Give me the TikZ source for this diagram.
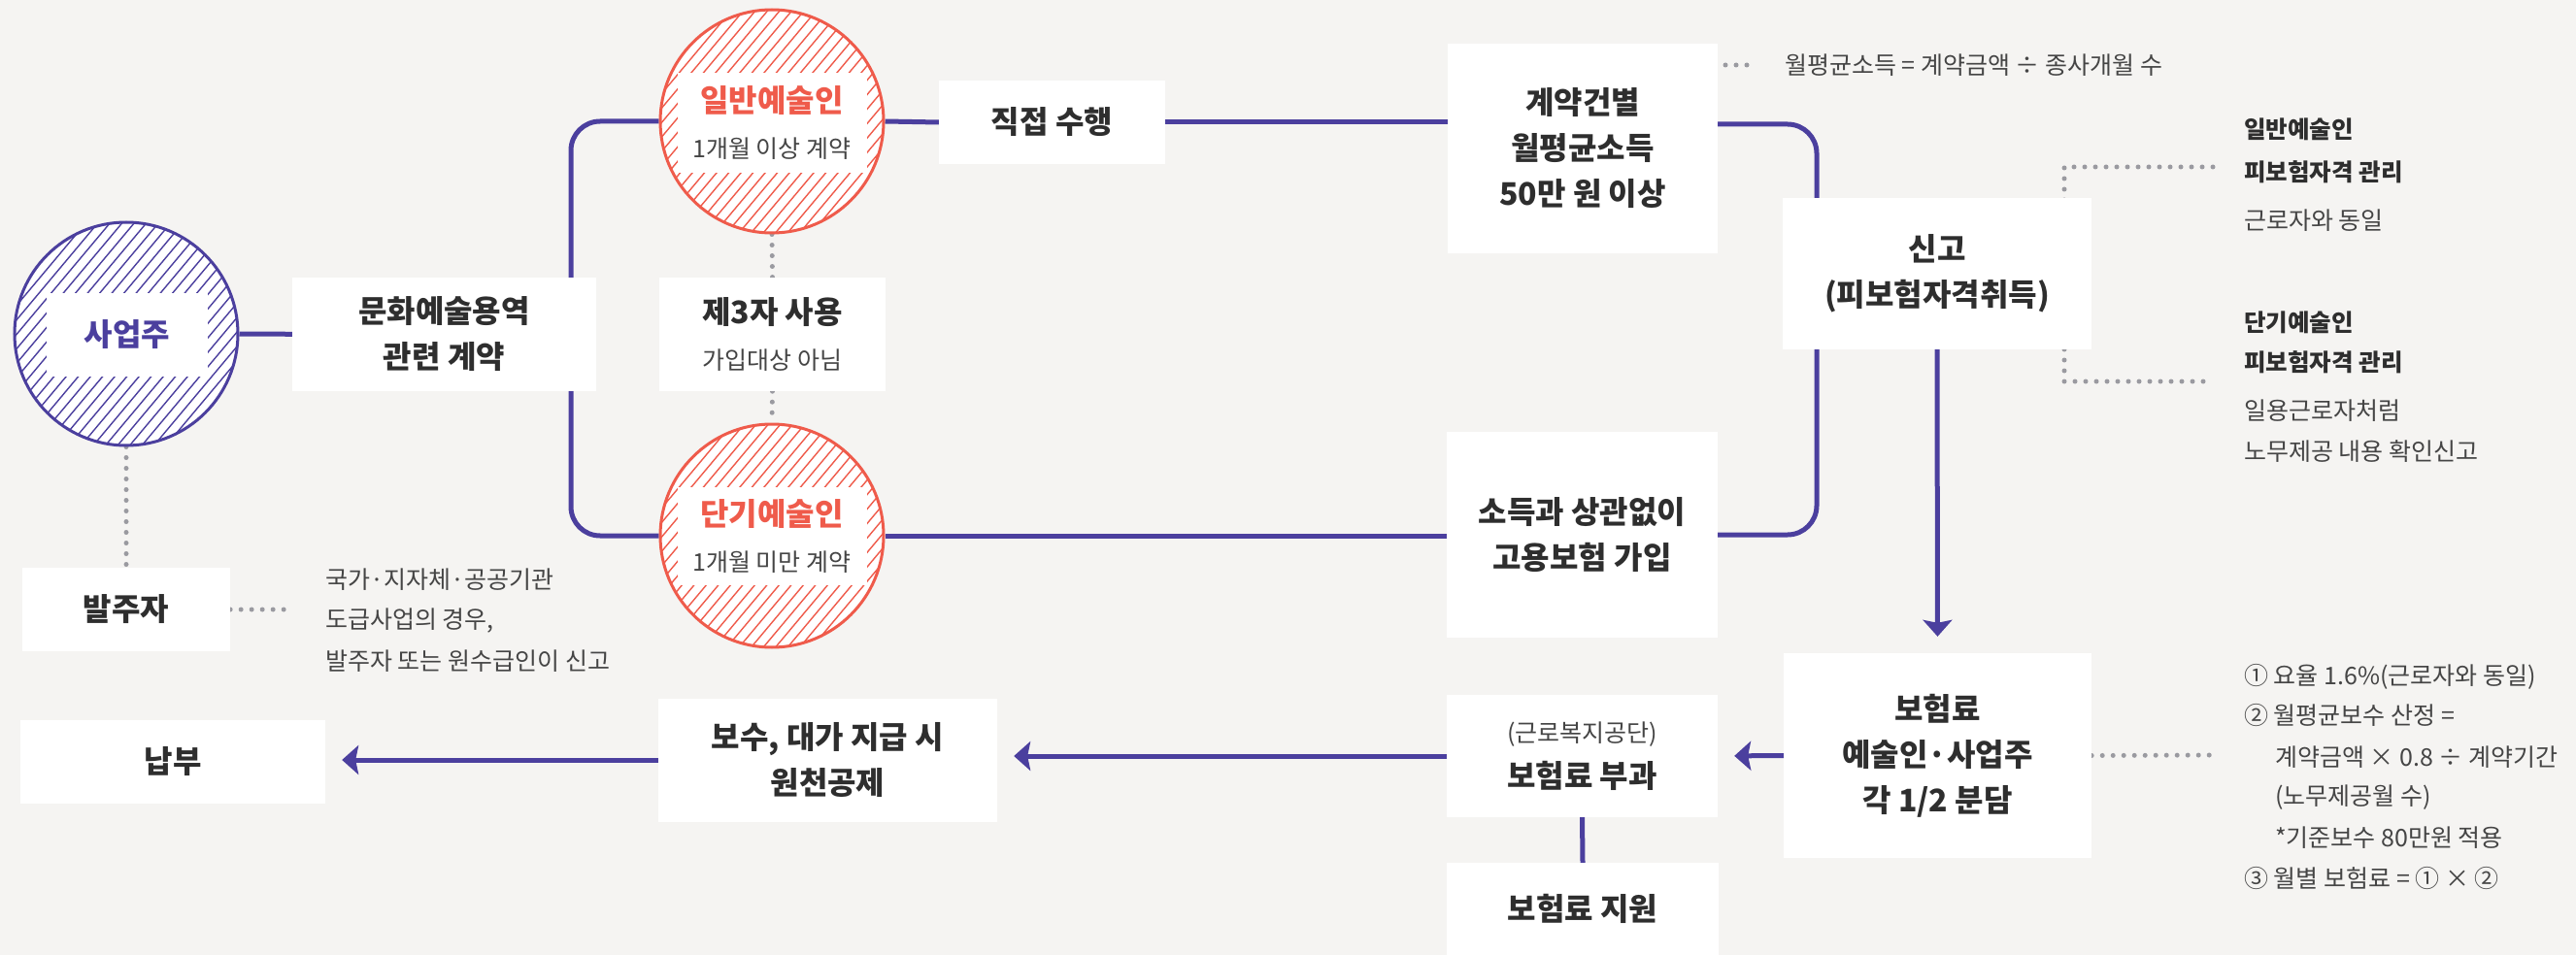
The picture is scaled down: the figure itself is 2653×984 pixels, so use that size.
\documentclass[tikz,border=0pt]{standalone}
\usepackage{fontspec}
\setmainfont{Noto Sans CJK KR}
\usetikzlibrary{arrows.meta}
\definecolor{bgc}{HTML}{F5F4F2}
\definecolor{purp}{HTML}{4B3F9E}
\definecolor{coral}{HTML}{EF5B4B}
\definecolor{ink}{HTML}{2E2E2E}
\definecolor{soft}{HTML}{454545}
\definecolor{dotc}{HTML}{9A9AA0}
\newcommand\ftBig{\fontsize{32}{47}\selectfont\bfseries}
\newcommand\ftSmall{\fontsize{25}{47}\selectfont\mdseries}
\newcommand\ftMid{\fontsize{24.5}{30}\selectfont\bfseries}
\pgfdeclarelayer{bg}
\pgfsetlayers{bg,main}
\tikzset{
  hcirc/.style={circle, minimum size=230pt, inner sep=0pt, fill=white, draw=#1, line width=3pt,
    path picture={\foreach \k in {-18,...,18}{\draw[line width=1.4pt, #1] ([shift={(\k*12.5pt-109pt,-130pt)}]path picture bounding box.center) -- ++(218pt,260pt);}}},
  lab/.style={rectangle, fill=white, inner sep=0pt, align=center},
  box/.style={rectangle, fill=white, inner sep=0pt, align=center, text=ink, font=\ftBig},
  conn/.style={draw=purp, line width=5pt},
  arr/.style={conn, -{Stealth[length=17pt,width=30pt,inset=3pt]}, shorten >=17pt},
  dots/.style={draw=dotc, line width=5pt, line cap=round, dash pattern=on 0pt off 11pt},
  txt/.style={font=\ftSmall, text=soft, inner sep=0pt, anchor=west},
  btxt/.style={font=\ftMid, text=ink, inner sep=0pt, anchor=west}
}
\begin{document}
\begin{tikzpicture}[x=1pt,y=-1pt]
\begin{pgfonlayer}{bg}
\fill[bgc] (0,0) rectangle (2653,984);
\end{pgfonlayer}
\useasboundingbox (0,0) rectangle (2653,984);

% circles
\node[hcirc=purp] (saup) at (130,344) {};
\node[lab, minimum width=166pt, minimum height=86pt, font=\ftBig, text=purp] (saupL) at (131,345) {사업주};
\node[hcirc=coral] (ilban) at (795,125) {};
\node[lab, minimum width=195pt, minimum height=103pt, font=\ftBig] (ilbanL) at (795,126.5) {\textcolor{coral}{일반예술인}\\{\ftSmall\color{soft}1개월 이상 계약}};
\node[hcirc=coral] (dangi) at (795,552) {};
\node[lab, minimum width=195pt, minimum height=101pt, font=\ftBig] (dangiL) at (795,552.5) {\textcolor{coral}{단기예술인}\\{\ftSmall\color{soft}1개월 미만 계약}};

% boxes
\node[box, minimum width=313pt, minimum height=117pt] (munhwa) at (457.5,344.5) {문화예술용역\\관련 계약};
\node[box, minimum width=233pt, minimum height=117pt] (je3) at (795.5,344.5) {제3자 사용\\{\ftSmall\color{soft}가입대상 아님}};
\node[box, minimum width=233pt, minimum height=86pt] (jikjeop) at (1083.5,126) {직접 수행};
\node[box, minimum width=278pt, minimum height=216pt] (gyeyak) at (1630,153) {계약건별\\월평균소득\\50만 원 이상};
\node[box, minimum width=279pt, minimum height=212pt] (sodeuk) at (1629.5,551) {소득과 상관없이\\고용보험 가입};
\node[box, minimum width=318pt, minimum height=156pt] (singo) at (1995,282) {신고\\(피보험자격취득)};
\node[box, minimum width=317pt, minimum height=211pt] (boheom) at (1995.5,778.5) {보험료\\예술인·사업주\\각 1/2 분담};
\node[box, minimum width=279pt, minimum height=126pt] (geunro) at (1629.5,779) {{\ftSmall\color{soft}(근로복지공단)}\\보험료 부과};
\node[box, minimum width=280pt, minimum height=95pt] (jiwon) at (1630,936.5) {보험료 지원};
\node[box, minimum width=349pt, minimum height=127pt] (bosu) at (852.5,783) {보수, 대가 지급 시\\원천공제};
\node[box, minimum width=314pt, minimum height=86pt] (napbu) at (178,785) {납부};
\node[box, minimum width=214pt, minimum height=86pt] (balju) at (130,628) {발주자};

% notes
\node[txt] (noteTop) at (1838,67) {월평균소득 = 계약금액 ÷ 종사개월 수};
\node[txt] (noteL1) at (335,597) {국가·지자체·공공기관};
\node[txt] (noteL2) at (335,640) {도급사업의 경우,};
\node[txt] (noteL3) at (335,681) {발주자 또는 원수급인이 신고};
\node[btxt] (rA1) at (2311,133) {일반예술인};
\node[btxt] (rA2) at (2311,177) {피보험자격 관리};
\node[txt] (rA3) at (2311,227) {근로자와 동일};
\node[btxt] (rB1) at (2311,332) {단기예술인};
\node[btxt] (rB2) at (2311,373) {피보험자격 관리};
\node[txt] (rB3) at (2311,423) {일용근로자처럼};
\node[txt] (rB4) at (2311,465) {노무제공 내용 확인신고};
\node[txt] (rC1) at (2311,697) {① 요율 1.6\%(근로자와 동일)};
\node[txt] (rC2) at (2311,737) {② 월평균보수 산정 =};
\node[txt] (rC3) at (2343,780) {계약금액 × 0.8 ÷ 계약기간};
\node[txt] (rC4) at (2343,822) {(노무제공월 수)};
\node[txt] (rC5) at (2343,863) {*기준보수 80만원 적용};
\node[txt] (rC6) at (2311,905) {③ 월별 보험료 = ① × ②};

% coordinates
\coordinate (fork) at (588,344);
\coordinate (rbus) at (1871,340);
\coordinate (baljuEnd) at (300,628);
\coordinate (topDotA) at (1777,67);
\coordinate (topDotB) at (1806,67);
\coordinate (brA) at (2279,172);
\coordinate (brB) at (2126,172);
\coordinate (brC) at (2126,393);
\coordinate (brD) at (2279,393);
\coordinate (listDot) at (2279,778);

\begin{pgfonlayer}{bg}
\draw[conn] (saup) -- (munhwa);
\draw[conn, rounded corners=30pt] (ilban.west) -| (fork) |- (dangi.west);
\draw[conn] (ilban.east) -- (jikjeop.west);
\draw[conn] (jikjeop.east) -- (jikjeop.east -| gyeyak.west);
\draw[conn, rounded corners=30pt] ([yshift=25pt]gyeyak.east) -| (rbus) |- (sodeuk.east);
\draw[conn] (dangi.east) -- (dangi.east -| sodeuk.west);
\draw[arr] (singo.south) -- (boheom.north);
\draw[arr] (boheom.west) -- (geunro.east);
\draw[arr] (geunro.west) -- (geunro.west -| bosu.east);
\draw[arr] (bosu.west) -- (bosu.west -| napbu.east);
\draw[conn] (geunro.south) -- (jiwon.north);
\draw[dots] (saup.south) -- (balju.north);
\draw[dots] (ilban.south) -- (je3.north);
\draw[dots] (je3.south) -- (dangi.north);
\draw[dots] (balju.east) -- (baljuEnd);
\draw[dots] (topDotA) -- (topDotB);
\draw[dots] (brA) -- (brB) -- (brC) -- (brD);
\draw[dots] (boheom.east) -- (listDot);
\end{pgfonlayer}
\end{tikzpicture}
\end{document}
